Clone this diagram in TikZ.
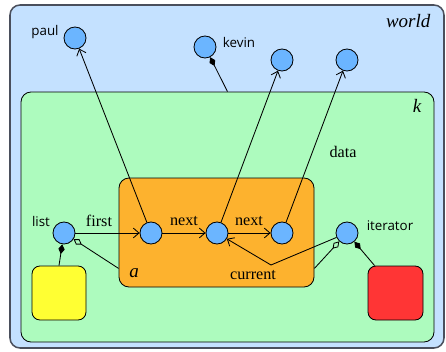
\documentclass[tikz,border=0pt]{standalone}
\usepackage{fontspec}
\setmainfont{Liberation Serif}
\newfontfamily\namefont{Open Sans}
\usetikzlibrary{calc,arrows.meta,fit}

\definecolor{worldblue}{HTML}{C4E1FF}
\definecolor{worldedge}{HTML}{4A4F5C}
\definecolor{kgreen}{HTML}{ADFBBE}
\definecolor{aorange}{HTML}{FDB22E}
\definecolor{objblue}{HTML}{6BB5FF}
\definecolor{ownyellow}{HTML}{FFFF33}
\definecolor{ownred}{HTML}{FF3535}

\begin{document}
\begin{tikzpicture}[
  x=0.025cm, y=0.025cm,
  obj/.style={circle, draw, semithick, fill=objblue, minimum size=5.5mm, inner sep=0pt},
  region/.style={draw, semithick, rounded corners=2.5mm, inner sep=0pt},
  thing/.style={draw, semithick, rounded corners=2mm, inner sep=0pt},
  objname/.style={font=\namefont\fontsize{9.5}{11}\selectfont, inner sep=1pt},
  role/.style={font=\fontsize{11.5}{13}\selectfont, inner sep=1pt},
  tag/.style={font=\fontsize{13.5}{15}\selectfont\itshape, inner sep=1pt},
  ref/.style={semithick, -{Straight Barb[length=4pt, width=7pt]}},
  owns/.style={semithick, {Diamond[length=7pt, width=4.5pt]}-},
  shares/.style={semithick, {Diamond[open, length=7pt, width=4.5pt]}-}
]
\useasboundingbox (0,0) rectangle (446,351);

\node[region, fill=worldblue, draw=worldedge, line width=1.1pt, fit={(10,3) (444,346)}] (world) {};
\node[region, fill=kgreen, fit={(21,9) (434,259)}] (k) {};
\node[region, fill=aorange, fit={(119,64) (314,173)}] (a) {};
\node[thing, fill=ownyellow, fit={(32,31) (86,85)}] (yellow) {};
\node[thing, fill=ownred, fit={(368,31) (423,85)}] (red) {};

\node[tag, anchor=east] (worldlbl) at (432,330) {world};
\node[tag, anchor=east] (klbl) at (423,245) {k};
\node[tag] (albl) at (134,78) {a};

\node[obj] (list) at (64,118) {};
\node[obj] (n1) at (151,118) {};
\node[obj] (n2) at (217,118) {};
\node[obj] (n3) at (282,118) {};
\node[obj] (iter) at (347,118) {};
\node[obj] (paul) at (75,313) {};
\node[obj] (kevin) at (205,304) {};
\node[obj] (d2) at (282,291) {};
\node[obj] (d3) at (347,291) {};

\node[objname] (listlbl) at (41,130) {list};
\node[objname] (iterlbl) at (390,125) {iterator};
\node[objname] (paullbl) at (45,319) {paul};
\node[objname] (kevinlbl) at (239,309) {kevin};

\coordinate (bend) at (271,86);
\coordinate (ain) at ($(a.south west)+(0,19)$);
\coordinate (aout) at ($(a.south east)+(0,19)$);
\coordinate (rin) at ($(red.north west)+(7,0)$);

\draw[ref] (list) -- (n1);
\draw[ref] (n1) -- (n2);
\draw[ref] (n2) -- (n3);
\draw[ref] (n1) -- (paul);
\draw[ref] (n2) -- (d2);
\draw[ref] (n3) -- (d3);
\draw[ref] (iter) -- (bend) -- (n2);

\node[role] (firstlbl) at (99,130) {first};
\node[role] (next1lbl) at (184,130) {next};
\node[role] (next2lbl) at (249,130) {next};
\node[role] (currentlbl) at (253,76) {current};
\node[role] (datalbl) at (343,199) {data};

\draw[owns] (kevin) -- (k.north);
\draw[owns] (list) -- (yellow.north);
\draw[shares] (list) -- (ain);
\draw[shares] (iter) -- (aout);
\draw[owns] (iter) -- (rin);
\end{tikzpicture}
\end{document}
